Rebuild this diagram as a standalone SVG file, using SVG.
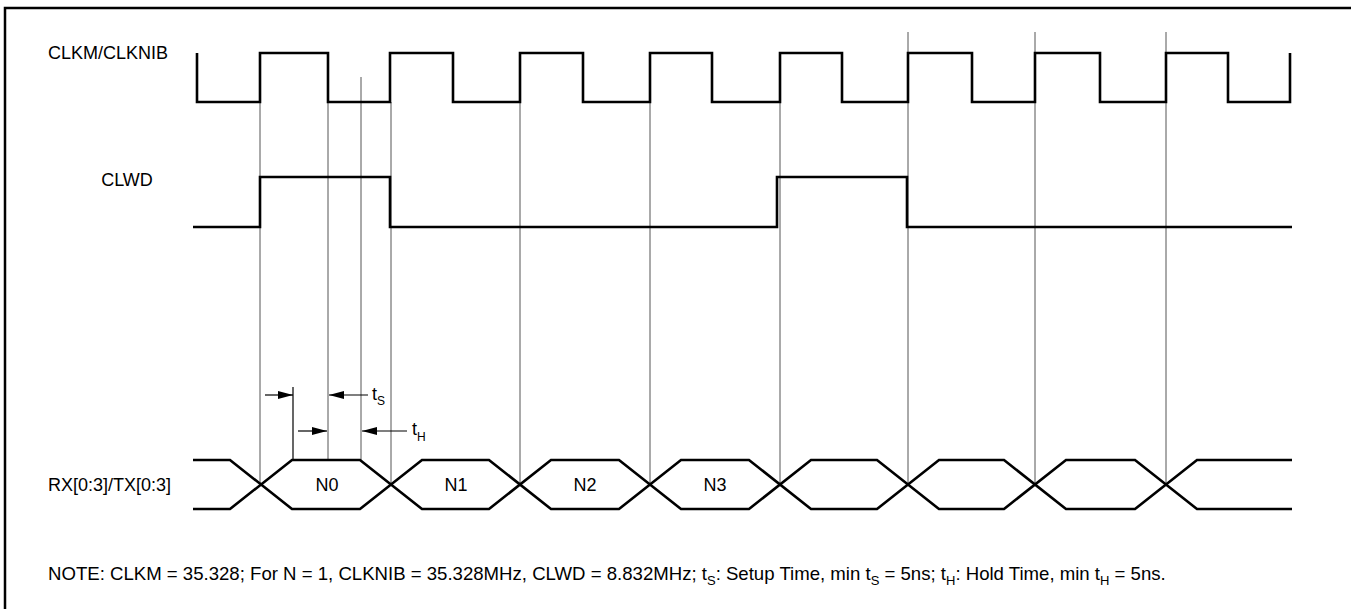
<svg xmlns="http://www.w3.org/2000/svg" width="1351" height="609" viewBox="0 0 1351 609">
<defs>
<style>
.frame{fill:none;stroke:#000;stroke-width:2.5}
.wave{fill:none;stroke:#000;stroke-width:2.6;stroke-linejoin:miter}
.guide{fill:none;stroke:#555;stroke-width:1}
.dim{fill:none;stroke:#000;stroke-width:1.2}
.lbl{font-family:"Liberation Sans",Arial,sans-serif;font-size:18px;fill:#000}
.note{font-family:"Liberation Sans",Arial,sans-serif;font-size:18.6px;fill:#000}
</style>
<marker id="ah" viewBox="0 0 15 8" refX="15" refY="4" markerWidth="15" markerHeight="8" markerUnits="userSpaceOnUse" orient="auto">
<path d="M0,0 L15,4 L0,8 Z" fill="#000"/>
</marker>
</defs>
<rect class="frame" x="5" y="8" width="1370" height="640"/>
<g id="connectors">
<path class="guide" d="M260,102 V484 M328,102 V460 M361,77 V460 M391,102 V484 M520,102 V484 M650,102 V484 M780,102 V484 M908,32 V484 M1035,32 V484 M1166,32 V484"/>
<path class="dim" d="M293,387 V460"/>
<line class="dim" x1="265" y1="395" x2="293" y2="395" marker-end="url(#ah)"/>
<line class="dim" x1="368" y1="395" x2="329" y2="395" marker-end="url(#ah)"/>
<line class="dim" x1="298" y1="431" x2="327" y2="431" marker-end="url(#ah)"/>
<line class="dim" x1="407" y1="431" x2="362" y2="431" marker-end="url(#ah)"/>
</g>
<g id="clkm">
<text class="lbl" x="48" y="59">CLKM/CLKNIB</text>
<path class="wave" d="M197,53 V102 H260 V53 H328 V102 H390 V53 H453 V102 H520 V53 H583 V102 H650 V53 H712 V102 H780 V53 H842 V102 H908 V53 H972 V102 H1035 V53 H1100 V102 H1166 V53 H1228 V102 H1290 V53"/>
</g>
<g id="clwd">
<text class="lbl" x="127" y="186" text-anchor="middle">CLWD</text>
<path class="wave" d="M193,227 H260 V177 H390 V227 H777 V177 H907 V227 H1292"/>
</g>
<g id="bus">
<text class="lbl" x="48" y="491">RX[0:3]/TX[0:3]</text>
<path class="wave" d="M193,460 H230 L292,509 H360 L422,460 H489 L551,509 H619 L681,460 H749 L811,509 H877 L939,460 H1004 L1066,509 H1135 L1197,460 H1292"/>
<path class="wave" d="M193,509 H230 L292,460 H360 L422,509 H489 L551,460 H619 L681,509 H749 L811,460 H877 L939,509 H1004 L1066,460 H1135 L1197,509 H1292"/>
<text class="lbl" x="327" y="491" text-anchor="middle">N0</text>
<text class="lbl" x="456" y="491" text-anchor="middle">N1</text>
<text class="lbl" x="585" y="491" text-anchor="middle">N2</text>
<text class="lbl" x="715" y="491" text-anchor="middle">N3</text>
</g>
<g id="timing-labels">
<text class="lbl" x="372" y="400">t<tspan font-size="12" dy="5">S</tspan></text>
<text class="lbl" x="412" y="435">t<tspan font-size="12" dy="6">H</tspan></text>
</g>
<g id="note">
<text class="note" x="48" y="580">NOTE: CLKM = 35.328; For N = 1, CLKNIB = 35.328MHz, CLWD = 8.832MHz; t<tspan font-size="13" dy="5">S</tspan><tspan dy="-5">: Setup Time, min t</tspan><tspan font-size="13" dy="5">S</tspan><tspan dy="-5"> = 5ns; t</tspan><tspan font-size="13" dy="5">H</tspan><tspan dy="-5">: Hold Time, min t</tspan><tspan font-size="13" dy="5">H</tspan><tspan dy="-5"> = 5ns.</tspan></text>
</g>
</svg>
